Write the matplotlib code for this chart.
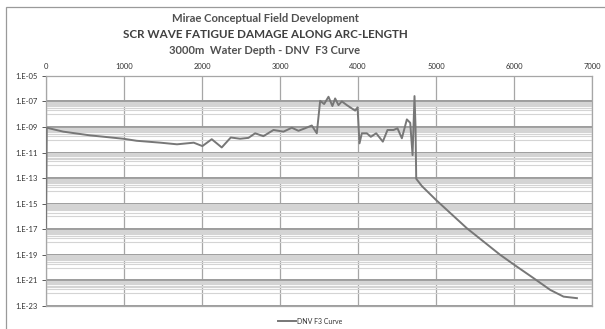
import numpy as np
import matplotlib
matplotlib.use("Agg")
import matplotlib.pyplot as plt
from matplotlib.ticker import FixedLocator, FuncFormatter, NullFormatter
from matplotlib.patches import Rectangle

# arc length (m) and fatigue damage
arc_length = [0, 10, 222, 564, 991, 1162, 1466, 1679, 1893, 2004, 2124, 2252,
              2368, 2487, 2594, 2680, 2786, 2915, 3043, 3150, 3235, 3320, 3406,
              3470, 3513, 3564, 3620, 3670, 3705, 3748, 3791, 3855, 3919, 3962,
              3992, 4017, 4047, 4111, 4162, 4231, 4316, 4376, 4453, 4504, 4560,
              4624, 4667, 4697, 4722, 4735, 4744, 4816, 5000, 5393, 5820, 6004,
              6248, 6462, 6632, 6803]
damage = [1.3e-17, 8.7e-10, 4.3e-10, 2.2e-10, 1.2e-10, 8.3e-11, 5.9e-11, 4.4e-11,
          5.9e-11, 3.2e-11, 1.1e-10, 2.5e-11, 1.5e-10, 1.2e-10, 1.4e-10, 3.2e-10,
          1.9e-10, 5.8e-10, 4.3e-10, 8.7e-10, 5.0e-10, 7.9e-10, 1.3e-9, 3.2e-10,
          1.1e-7, 6.2e-8, 2.3e-7, 4.3e-8, 1.7e-7, 5.1e-8, 1.0e-7, 5.1e-8, 2.8e-8,
          1.9e-8, 3.4e-8, 5.2e-11, 3.2e-10, 3.2e-10, 1.7e-10, 3.2e-10, 7.1e-11,
          5.8e-10, 5.8e-10, 7.8e-10, 1.3e-10, 3.9e-9, 2.1e-9, 6.3e-12, 2.6e-7,
          1.0e-9, 8.9e-14, 2.4e-14, 1.9e-15, 1.2e-17, 1.0e-19, 1.6e-20, 1.5e-21,
          1.8e-22, 5.4e-23, 4.1e-23]

x_ticks = [0, 1000, 2000, 3000, 4000, 5000, 6000, 7000]
y_exponents = [-5, -7, -9, -11, -13, -15, -17, -19, -21, -23]

titles = ["Mirae Conceptual Field Development",
          "SCR WAVE FATIGUE DAMAGE ALONG ARC-LENGTH",
          "3000m  Water Depth - DNV  F3 Curve"]
series_name = "DNV F3 Curve"

plt.rcParams['font.family'] = ['Lato', 'DejaVu Sans']

fig = plt.figure(figsize=(6.05, 3.29), dpi=100)
ax = fig.add_axes([0.076, 0.0699, 0.903, 0.6997])

ax.plot(arc_length, damage, color='#777777', lw=1.4, label=series_name,
        solid_joinstyle='round', zorder=3)

ax.set_yscale('log')
ax.set_ylim(1e-23, 1e-5)
ax.set_xlim(0, 7000)

major_y = [10.0 ** e for e in y_exponents]
minor_y = [m * 10.0 ** (e - 1) for e in y_exponents[1:] for m in range(1, 10)]
ax.yaxis.set_major_locator(FixedLocator(major_y))
ax.yaxis.set_minor_locator(FixedLocator(minor_y))
ax.yaxis.set_minor_formatter(NullFormatter())
ax.yaxis.set_major_formatter(
    FuncFormatter(lambda v, p: "1.E-%02d" % round(-np.log10(v))))
ax.xaxis.set_major_locator(FixedLocator(x_ticks))

ax.xaxis.tick_top()
ax.tick_params(axis='both', which='major', labelsize=5.5, colors='#404040',
               length=3, width=0.6, pad=3)
ax.tick_params(axis='x', which='major', length=0, pad=4)
ax.tick_params(axis='y', which='minor', length=0)
for lab in ax.get_xticklabels() + ax.get_yticklabels():
    lab.set_color('#333333')

ax.grid(True, which='major', axis='y', color='#9c9c9c', lw=1.4)
ax.grid(True, which='minor', axis='y', color='#d4d4d4', lw=0.8)
ax.grid(True, which='major', axis='x', color='#a6a6a6', lw=0.9)
ax.set_axisbelow(True)

for side, sp in ax.spines.items():
    sp.set_color('#a6a6a6')
    sp.set_linewidth(0.9)

# titles
fig.text(0.438, 1 - 18 / 329, titles[0], ha='center', va='center',
         fontsize=8.1, fontweight='bold', color='#505050')
fig.text(0.438, 1 - 35 / 329, titles[1], ha='center', va='center',
         fontsize=8.4, fontweight='bold', color='#404040')
fig.text(0.438, 1 - 51 / 329, titles[2], ha='center', va='center',
         fontsize=8.0, fontweight='bold', color='#505050')

# chart frame
fig.add_artist(Rectangle((6 / 605, -0.05), 1.2, 1 - 7 / 329 + 0.05,
                         transform=fig.transFigure, fill=False,
                         edgecolor='#9a9a9a', lw=0.9))

fig.legend(loc='center', bbox_to_anchor=(0.513, 1 - 321 / 329), frameon=False,
           fontsize=5, handlelength=2.6, handletextpad=0.2,
           labelcolor='#333333')

fig.savefig("out.png", dpi=100)
